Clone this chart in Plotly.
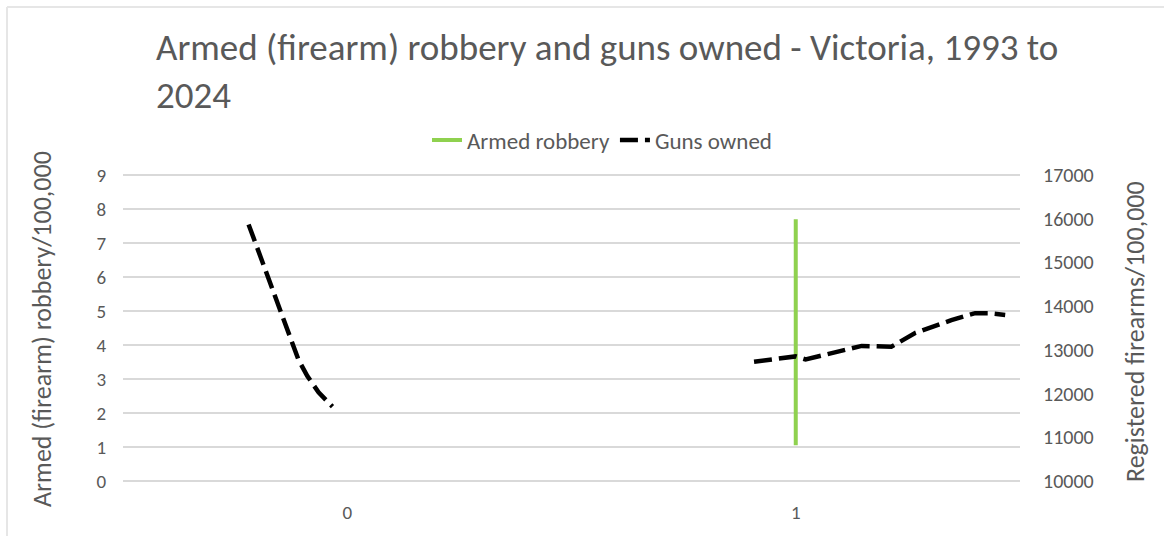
import plotly.graph_objects as go

# Armed (firearm) robbery rate per 100,000 (all drawn at category 1)
robbery_x = [1, 1, 1, 1, 1, 1, 1, 1, 1, 1, 1, 1, 1, 1]
robbery_rate = [7.7, 6.9, 6.1, 5.3, 4.9, 4.2, 3.6, 3.1, 2.7, 2.4, 2.0, 1.6, 1.3, 1.05]

# Registered firearms per 100,000 - earlier run
guns_early_x = [-0.22, -0.144, -0.109, -0.089, -0.064, -0.033]
guns_early = [15870, 13790, 12780, 12400, 12030, 11700]

# Registered firearms per 100,000 - later run
guns_late_x = [0.907, 1.0, 1.022, 1.147, 1.213, 1.267, 1.347, 1.4, 1.429, 1.467]
guns_late = [12730, 12850, 12780, 13090, 13070, 13390, 13680, 13840, 13840, 13800]

x_ticks = [0, 1]
left_ticks = [0, 1, 2, 3, 4, 5, 6, 7, 8, 9]
right_ticks = [10000, 11000, 12000, 13000, 14000, 15000, 16000, 17000]

FONT = "Carlito, Calibri, 'Liberation Sans Narrow', Lato, sans-serif"
GREY = "#595959"
GRID = "#d9d9d9"
PAD = 0.06  # keeps the 0 and 9 gridlines from being clipped at the edges

fig = go.Figure()

fig.add_trace(go.Scatter(
    x=robbery_x, y=robbery_rate, name="Armed robbery", mode="lines",
    line=dict(color="#8fd14f", width=4), yaxis="y",
))
fig.add_trace(go.Scatter(
    x=guns_early_x, y=guns_early, name="Guns owned", mode="lines",
    line=dict(color="#000000", width=4.5, dash="18px,7px"), yaxis="y2",
    legendgroup="guns",
))
fig.add_trace(go.Scatter(
    x=guns_late_x, y=guns_late, name="Guns owned", mode="lines",
    line=dict(color="#000000", width=4.5, dash="18px,7px"), yaxis="y2",
    legendgroup="guns", showlegend=False,
))

fig.update_layout(
    width=1164, height=536,
    margin=dict(l=123, r=144, t=173, b=53),
    paper_bgcolor="white", plot_bgcolor="white",
    font=dict(family=FONT, color=GREY),
    title=dict(
        text="Armed (firearm) robbery and guns owned - Victoria, 1993 to<br>2024",
        font=dict(size=37, color=GREY, family=FONT),
        xref="container", x=156 / 1164, xanchor="left",
        yref="container", y=1 - 60 / 536, yanchor="top",
    ),
    legend=dict(
        orientation="h", x=0.534, xanchor="center", y=1.106, yanchor="middle",
        font=dict(size=23, color=GREY, family=FONT),
        itemwidth=30, bgcolor="rgba(0,0,0,0)",
    ),
    xaxis=dict(
        range=[-0.5, 1.5], tickvals=x_ticks, ticktext=[str(v) for v in x_ticks],
        showgrid=False, zeroline=False, showline=False,
        ticks="outside", ticklen=12, tickcolor="rgba(0,0,0,0)",
        tickfont=dict(size=19, color=GREY),
    ),
    yaxis=dict(
        range=[-PAD, 9 + PAD], tickvals=left_ticks, showgrid=True, gridcolor=GRID, gridwidth=1.5,
        zeroline=False, showline=False,
        ticks="outside", ticklen=12, tickcolor="rgba(0,0,0,0)",
        tickfont=dict(size=19, color=GREY),
    ),
    yaxis2=dict(
        range=[10000 - 7000 * PAD / 9, 17000 + 7000 * PAD / 9],
        tickvals=right_ticks, tickformat="d", overlaying="y", side="right",
        showgrid=False, zeroline=False, showline=False,
        ticks="outside", ticklen=18, tickcolor="rgba(0,0,0,0)",
        tickfont=dict(size=20, color=GREY),
    ),
    annotations=[
        dict(text="Armed (firearm) robbery/100,000", textangle=-90,
             xref="paper", yref="paper", x=(42 - 123) / 897, y=(483 - 329) / 310,
             xanchor="center", yanchor="middle", showarrow=False,
             font=dict(size=26, color=GREY)),
        dict(text="Registered firearms/100,000", textangle=-90,
             xref="paper", yref="paper", x=(1135 - 123) / 897, y=(483 - 332) / 310,
             xanchor="center", yanchor="middle", showarrow=False,
             font=dict(size=26, color=GREY)),
    ],
    shapes=[
        # chart-area border (top and left edges)
        dict(type="line", xref="paper", yref="paper",
             x0=(7 - 123) / 897, x1=(1200 - 123) / 897,
             y0=1 + (173 - 7) / 310, y1=1 + (173 - 7) / 310,
             line=dict(color="#e6e6e6", width=2)),
        dict(type="line", xref="paper", yref="paper",
             x0=(7 - 123) / 897, x1=(7 - 123) / 897,
             y0=1 + (173 - 7) / 310, y1=-(600 - 483) / 310,
             line=dict(color="#e6e6e6", width=2)),
    ],
)

fig.write_html("out.html")
